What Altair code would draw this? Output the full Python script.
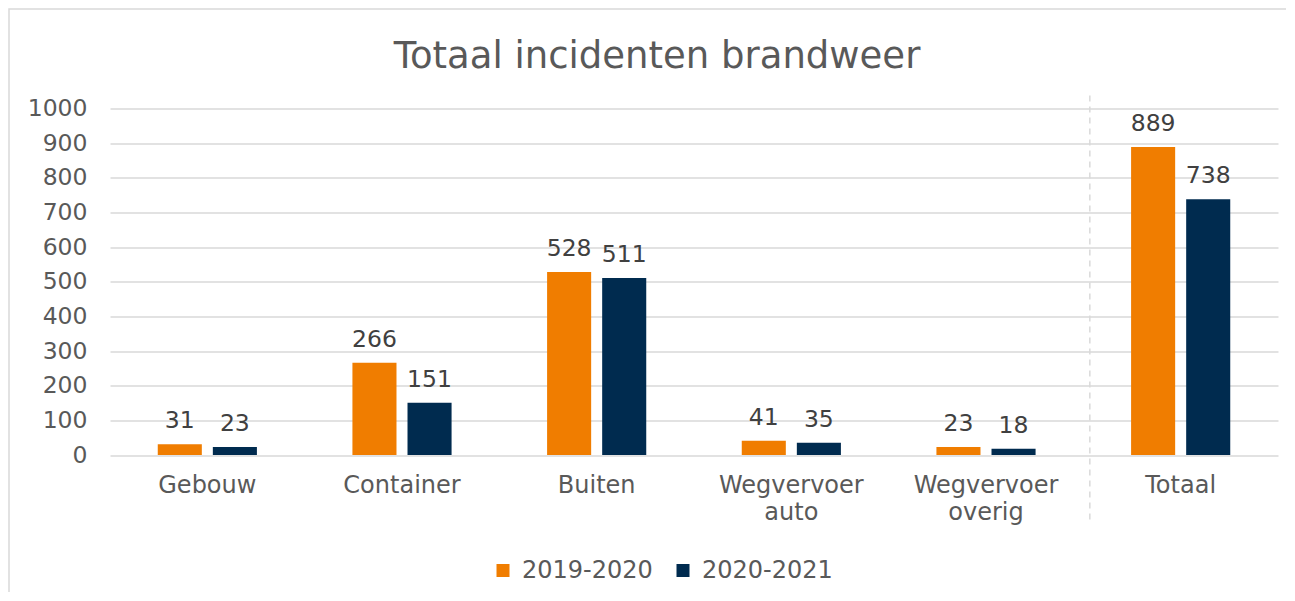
import altair as alt
import pandas as pd

categories = ["Gebouw", "Container", "Buiten", "Wegvervoer auto", "Wegvervoer overig", "Totaal"]
series = ["2019-2020", "2020-2021"]
values_2019 = [31, 266, 528, 41, 23, 889]
values_2020 = [23, 151, 511, 35, 18, 738]
colors = ["#F07D00", "#002B4F"]
y_ticks = [0, 100, 200, 300, 400, 500, 600, 700, 800, 900, 1000]
title_text = "Totaal incidenten brandweer"

rows = []
for c, a, b in zip(categories, values_2019, values_2020):
    rows.append({"cat": c, "serie": series[0], "val": a})
    rows.append({"cat": c, "serie": series[1], "val": b})
df = pd.DataFrame(rows)

FONT = "DejaVu Sans"
W, H = 1168, 346.5

x_enc = alt.X("cat:N", sort=categories, scale=alt.Scale(paddingInner=0, paddingOuter=0),
              axis=alt.Axis(title=None, labelAngle=0, labelFontSize=24, labelColor="#595959",
                            labelFont=FONT, ticks=False, domain=False, labelPadding=18,
                            labelExpr="split(datum.label, ' ')", labelLineHeight=27))
xoff = alt.XOffset("serie:N", sort=series,
                   scale=alt.Scale(paddingInner=0.2, paddingOuter=0.867))
y_enc = alt.Y("val:Q", scale=alt.Scale(domain=[0, 1000]),
              axis=alt.Axis(title=None, values=y_ticks, format="d", labelOverlap=False,
                            labelFontSize=23.5, labelColor="#595959",
                            labelFont=FONT, ticks=False, domain=False, labelPadding=23,
                            gridColor="#D9D9D9", gridWidth=1.5))

base = alt.Chart(df)

bars = base.mark_bar().encode(
    x=x_enc,
    xOffset=xoff,
    y=y_enc,
    color=alt.Color("serie:N", sort=series, scale=alt.Scale(domain=series, range=colors),
                    legend=alt.Legend(title=None, orient="none", legendX=381, legendY=450,
                                      direction="horizontal", symbolType="square",
                                      symbolSize=169, labelFontSize=24, labelFont=FONT,
                                      labelColor="#595959", labelOffset=7, columnPadding=18,
                                      padding=0, symbolStrokeWidth=0)),
)

labels = base.mark_text(fontSize=23.5, font=FONT, color="#404040", baseline="alphabetic", dy=-16).encode(
    x=x_enc,
    xOffset=xoff,
    y=y_enc,
    text="val:Q",
)

sep = alt.Chart(pd.DataFrame({"cat": ["Totaal"]})).mark_rule(
    color="#D9D9D9", strokeWidth=1.5, strokeDash=[6, 5], xOffset=6.5
).encode(
    x=alt.X("cat:N", sort=categories, bandPosition=0),
    y=alt.value(-13),
    y2=alt.value(415),
)

border = alt.Chart(pd.DataFrame({"a": [0]})).mark_rect(
    fill=None, stroke="#D9D9D9", strokeWidth=1.5
).encode(
    x=alt.value(-101), x2=alt.value(W + 100), y=alt.value(-99.5), y2=alt.value(H + 200)
)

title = alt.Chart(pd.DataFrame({"t": [title_text]})).mark_text(
    fontSize=37, font=FONT, color="#595959", baseline="alphabetic", align="center"
).encode(
    x=alt.value(W / 2 - 37), y=alt.value(-41), text="t:N"
)

chart = alt.layer(border, bars, labels, sep, title).properties(
    width=W, height=H,
    autosize=alt.AutoSizeParams(type="none"),
    padding={"left": 102, "top": 100.5, "right": 8, "bottom": 137},
).configure_view(stroke=None).configure_axisX(grid=False)

chart.save("out.html", embed_options={"renderer": "svg", "actions": False})
